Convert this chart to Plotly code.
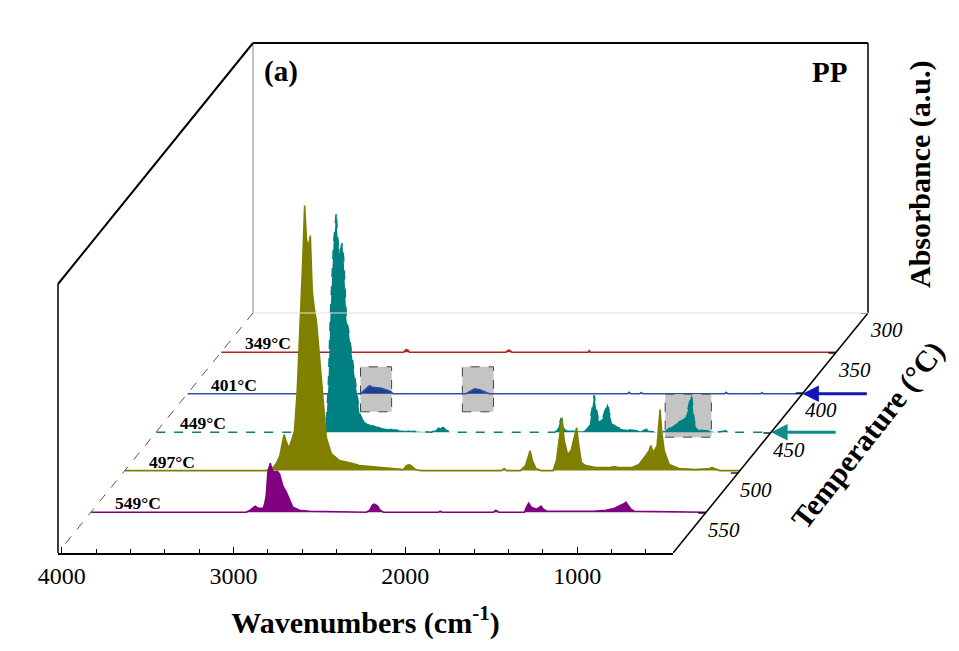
import plotly.graph_objects as go

# ---------------- data ----------------
temps = [349, 401, 449, 497, 549]
temp_labels = ["349°C", "401°C", "449°C", "497°C", "549°C"]
line_colors = ["#A82626", "#2A52A6", "#008080", "#808000", "#800080"]
fill_colors = ["#A82626", "#1E3F90", "#008080", "#808000", "#800080"]
line_dashes = ["solid", "solid", "dash", "solid", "solid"]

wn_349 = [4022, 2960, 2950, 2943, 2935, 2925, 2365, 2355, 2349, 2340, 2330, 1885, 1879, 1872, 442]
ab_349 = [0, 0, 0.02, 0.025, 0.02, 0, 0, 0.015, 0.02, 0.015, 0, 0, 0.015, 0, 0]

wn_401 = [4022, 3010, 3002, 2985, 2962, 2945, 2933, 2915, 2893, 2870, 2850, 2835, 2825,
          2400, 2391, 2370, 2350, 2320, 2290, 2275, 2265,
          1460, 1450, 1440, 1390, 1380, 1370, 895, 886, 875, 685, 677, 670, 442]
ab_401 = [0, 0, 0.02, 0.05, 0.08, 0.065, 0.06, 0.06, 0.055, 0.045, 0.03, 0.02, 0,
          0, 0.01, 0.035, 0.05, 0.04, 0.02, 0.01, 0,
          0, 0.015, 0, 0, 0.012, 0, 0, 0.015, 0, 0, 0.012, 0, 0]

wn_449 = [4022, 3040, 3030, 3020, 3007, 2995, 2989, 2980, 2974, 2966, 2955, 2945, 2939, 2931,
          2920, 2914, 2902, 2885, 2867, 2850, 2838, 2820, 2798, 2740, 2647, 2549, 2450,
          2420, 2395, 2380, 2365, 2350, 2335, 2310,
          1700, 1680, 1665, 1650, 1630,
          1525, 1500, 1485, 1472, 1462, 1445, 1425, 1410, 1394, 1385, 1367, 1340, 1309, 1250,
          1200, 1180, 1171, 1160, 1100,
          1055, 1040, 1000, 980, 960, 945, 930, 915, 906, 898, 890, 880, 860, 800, 760,
          700, 690, 442]
ab_449 = [0, 0, 0.15, 0.45, 1.2, 1.7, 1.9, 2.05, 2.2, 1.95, 1.79, 1.85, 1.89, 1.75,
          1.4, 1.12, 1.02, 0.8, 0.55, 0.33, 0.19, 0.12, 0.09, 0.05, 0.025, 0.01, 0,
          0, 0.02, 0.05, 0.04, 0.045, 0.02, 0,
          0, 0.05, 0.14, 0.05, 0.01,
          0.01, 0.06, 0.22, 0.37, 0.25, 0.11, 0.13, 0.2, 0.29, 0.2, 0.08, 0.05, 0.03, 0.02,
          0.01, 0.03, 0.035, 0.01, 0,
          0.01, 0.03, 0.08, 0.1, 0.12, 0.13, 0.2, 0.33, 0.38, 0.25, 0.12, 0.05, 0.02, 0.01, 0,
          0.015, 0, 0]

wn_497 = [4022, 3200, 3160, 3141, 3120, 3105, 3096, 3085, 3068, 3052, 3035, 3019, 3000, 2990,
          2983, 2976, 2965, 2953, 2943, 2932, 2920, 2908, 2889, 2866, 2850, 2821, 2773, 2697,
          2657, 2465, 2400, 2385, 2366, 2350, 2330, 2300, 1830, 1814, 1800,
          1720, 1690, 1672, 1664, 1650, 1630, 1600, 1530, 1510, 1495, 1478, 1465, 1445, 1425,
          1405, 1393, 1380, 1365, 1340, 1280, 1230, 1200, 1174, 1150, 1100, 1070, 1030, 1011,
          990, 971, 961, 947, 935, 924, 915, 907, 898, 883, 854, 796, 700, 620, 604, 590, 560, 442]
ab_497 = [0, 0, 0.03, 0.07, 0.15, 0.28, 0.36, 0.3, 0.22, 0.3, 0.4, 0.8, 1.47, 1.97,
          2.3, 2.65, 2.3, 2.25, 2.35, 1.8, 1.62, 1.5, 1.13, 0.67, 0.33, 0.17, 0.1, 0.07,
          0.05, 0.02, 0.01, 0.05, 0.06, 0.04, 0.01, 0, 0, 0.02, 0,
          0, 0.05, 0.15, 0.2, 0.1, 0.02, 0, 0, 0.1, 0.3, 0.53, 0.3, 0.16, 0.2,
          0.35, 0.43, 0.25, 0.08, 0.05, 0.03, 0.03, 0.03, 0.04, 0.03, 0.03, 0.03, 0.06, 0.1,
          0.15, 0.2, 0.25, 0.18, 0.22, 0.25, 0.45, 0.61, 0.4, 0.2, 0.06, 0.02, 0.01, 0.02, 0.03, 0.02, 0, 0]

wn_549 = [4022, 3120, 3096, 3075, 3067, 3050, 3019, 3010, 3003, 2993, 2985, 2979, 2972, 2966,
          2955, 2945, 2939, 2925, 2915, 2906, 2886, 2867, 2848, 2809, 2750, 2420, 2400, 2385,
          2373, 2355, 2340, 2320, 2000, 1990, 1980, 1680, 1666, 1650, 1500, 1485, 1475, 1460,
          1430, 1410, 1403, 1390, 1370, 1100, 1024, 975, 935, 915, 909, 895, 880, 860, 442]
ab_549 = [0, 0, 0.02, 0.05, 0.06, 0.04, 0.04, 0.1, 0.16, 0.4, 0.47, 0.49, 0.44, 0.42,
          0.4, 0.41, 0.41, 0.38, 0.32, 0.26, 0.2, 0.13, 0.05, 0.02, 0.01, 0, 0.02, 0.07,
          0.08, 0.06, 0.02, 0, 0, 0.01, 0, 0, 0.02, 0, 0, 0.06, 0.09, 0.05,
          0.03, 0.05, 0.06, 0.03, 0.01, 0.01, 0.02, 0.04, 0.07, 0.09, 0.1, 0.06, 0.03, 0.01, 0]

spectra_wn = [wn_349, wn_401, wn_449, wn_497, wn_549]
spectra_ab = [ab_349, ab_401, ab_449, ab_497, ab_549]

# highlighted regions: (layer index, wn_start, wn_end, ab_low, ab_high)
box_layer = [1, 1, 2]
box_wn0 = [3014, 2421, 1059]
box_wn1 = [2833, 2240, 790]
box_ab0 = [-0.18, -0.18, -0.05]
box_ab1 = [0.27, 0.27, 0.38]

# arrows marking layers (layer index, colour)
arrow_layer = [1, 2]
arrow_colors = ["#1414B8", "#0E8C8C"]

wn_range = [4022, 442]
wn_dtick = 1000
wn_minor = 200
temp_ticks = [300, 350, 400, 450, 500, 550]
temp_range = [600, 300]
ab_range = [-0.3, 2.7]

# ---------------- layout geometry ----------------
W, H = 959, 651
X0, X1 = 58, 673          # front wavenumber axis (px)
Y_FRONT = 553             # front edge (px from top)
DX, DY = 195, 240         # depth offset for the full temperature range
Y_TOP = 43                # top of back wall
Y_LEFTWALL = 284
PX_PER_AB = 100
FONT = "Liberation Serif"

span = temp_range[0] - temp_range[1]

def layer_left(T):
    return X0 + (temp_range[0] - T) / span * DX

def layer_base(T):
    return Y_FRONT - (temp_range[0] - T) / span * DY

def fx(px):
    return px / W

def fy(py):
    return (H - py) / H

fig = go.Figure()
layout = dict(
    template="none",
    width=W, height=H, margin=dict(l=0, r=0, t=0, b=0, autoexpand=False),
    paper_bgcolor="white", plot_bgcolor="rgba(0,0,0,0)",
    showlegend=False, font=dict(family=FONT, color="black"),
)
annotations = []
shapes = []

for i, T in enumerate(temps):
    n = i + 1
    xa = "x" if n == 1 else f"x{n}"
    ya = "y" if n == 1 else f"y{n}"
    L = layer_left(T)
    B = layer_base(T)
    y_bot = B - ab_range[0] * PX_PER_AB
    y_top = B - ab_range[1] * PX_PER_AB
    layout["xaxis" if n == 1 else f"xaxis{n}"] = dict(
        domain=[fx(L), fx(L + (X1 - X0))], range=wn_range, visible=False,
        anchor=ya, fixedrange=True, automargin=False)
    layout["yaxis" if n == 1 else f"yaxis{n}"] = dict(
        domain=[fy(y_bot), fy(y_top)], range=ab_range, visible=False,
        anchor=xa, fixedrange=True, automargin=False)
    fig.add_trace(go.Scatter(
        x=spectra_wn[i], y=spectra_ab[i], xaxis=xa, yaxis=ya, mode="lines",
        line=dict(color=line_colors[i], width=1.6, dash=line_dashes[i]),
        fill="tozeroy", fillcolor=fill_colors[i], hoverinfo="skip"))
    annotations.append(dict(
        xref=xa, yref=ya, x=wn_range[0] - 22 / ((X1 - X0) / (wn_range[0] - wn_range[1])),
        y=0, xanchor="left", yanchor="bottom", yshift=-3, showarrow=False,
        text=f"<b>{temp_labels[i]}</b>", font=dict(size=17.5, family=FONT, color="black")))

for k in range(len(box_layer)):
    n = box_layer[k] + 1
    xa = "x" if n == 1 else f"x{n}"
    ya = "y" if n == 1 else f"y{n}"
    shapes.append(dict(type="rect", xref=xa, yref=ya, x0=box_wn0[k], x1=box_wn1[k],
                       y0=box_ab0[k], y1=box_ab1[k], fillcolor="#C4C4C4",
                       line=dict(color="#444444", width=1, dash="dash"), layer="below"))

for k in range(len(arrow_layer)):
    n = arrow_layer[k] + 1
    xa = "x" if n == 1 else f"x{n}"
    ya = "y" if n == 1 else f"y{n}"
    annotations.append(dict(xref=xa, yref=ya, x=wn_range[1], y=0, ax=66, ay=0,
                            showarrow=True, arrowhead=2, arrowsize=1.1, arrowwidth=3,
                            arrowcolor=arrow_colors[k], text=""))

# front wavenumber axis (at the front edge)
nf = len(temps) + 1
layout[f"xaxis{nf}"] = dict(
    domain=[fx(X0), fx(X1)], range=wn_range, anchor=f"y{nf}", automargin=False,
    showline=True, linecolor="black", linewidth=2, ticks="inside", ticklen=6,
    tickwidth=1.2, tickcolor="black", dtick=wn_dtick, tick0=0, showgrid=False,
    zeroline=False, tickfont=dict(size=24, family=FONT, color="black"),
    minor=dict(dtick=wn_minor, ticks="inside", ticklen=4, tickcolor="black", showgrid=False),
    title=dict(text="<b>Wavenumbers (cm<sup>-1</sup>)</b>", standoff=24,
               font=dict(size=30, family=FONT, color="black")),
    fixedrange=True)
layout[f"yaxis{nf}"] = dict(domain=[fy(Y_FRONT), fy(Y_FRONT - 50)], range=[0, 1],
                            visible=False, anchor=f"x{nf}", fixedrange=True, automargin=False)
fig.add_trace(go.Scatter(x=[wn_range[0]], y=[-1], xaxis=f"x{nf}", yaxis=f"y{nf}",
                         mode="markers", marker=dict(opacity=0), hoverinfo="skip"))

# temperature (depth) axis, drawn along the right floor diagonal
nt = nf + 1
layout[f"xaxis{nt}"] = dict(domain=[fx(X1), fx(X1 + DX)], range=temp_range,
                            visible=False, anchor=f"y{nt}", fixedrange=True, automargin=False)
layout[f"yaxis{nt}"] = dict(domain=[fy(Y_FRONT), fy(Y_FRONT - DY)], range=temp_range,
                            visible=False, anchor=f"x{nt}", fixedrange=True, automargin=False)
fig.add_trace(go.Scatter(x=temp_range, y=temp_range, xaxis=f"x{nt}", yaxis=f"y{nt}",
                         mode="lines", line=dict(color="black", width=1.6),
                         hoverinfo="skip", cliponaxis=False))
tx, ty = [], []
for T in temp_ticks:
    tx += [T, T + 11, None]
    ty += [T, T, None]
fig.add_trace(go.Scatter(x=tx, y=ty, xaxis=f"x{nt}", yaxis=f"y{nt}", mode="lines",
                         line=dict(color="black", width=1.3), hoverinfo="skip",
                         cliponaxis=False))
for T in temp_ticks:
    annotations.append(dict(xref=f"x{nt}", yref=f"y{nt}", x=T, y=T, xanchor="left",
                            yanchor="top", xshift=0, yshift=-3, showarrow=False,
                            text=f"<i>{T}</i>",
                            font=dict(size=21, family=FONT, color="black")))

# ---------------- frame ----------------
BX0, BX1 = X0 + DX, X1 + DX
BY = Y_FRONT - DY
def seg(x0, y0, x1, y1, color="black", width=1.5, dash="solid"):
    shapes.append(dict(type="line", xref="paper", yref="paper", x0=fx(x0), y0=fy(y0),
                       x1=fx(x1), y1=fy(y1), line=dict(color=color, width=width, dash=dash)))

seg(BX0, Y_TOP, BX1, Y_TOP, width=2)                 # back wall top
seg(BX1, Y_TOP, BX1, BY, width=1.5)                  # back wall right
seg(BX0, Y_TOP, BX0, BY, color="#8a8a8a", width=1)   # back wall left
seg(BX0, BY, BX1, BY, color="#F6DADA", width=1)      # back wall bottom
seg(X0, Y_LEFTWALL, BX0, Y_TOP, width=2)             # left wall top
seg(X0, Y_LEFTWALL, X0, Y_FRONT, width=1.5)          # left wall front
seg(BX0, BY, X0 + 3, Y_FRONT - 4, color="#555555", width=1, dash="dash")  # floor left

annotations += [
    dict(xref="paper", yref="paper", x=fx(262), y=fy(71), xanchor="left", yanchor="middle",
         text="<b>(a)</b>", showarrow=False, font=dict(size=29, family=FONT, color="black")),
    dict(xref="paper", yref="paper", x=fx(849), y=fy(72), xanchor="right", yanchor="middle",
         text="<b>PP</b>", showarrow=False, font=dict(size=29, family=FONT, color="black")),
    dict(xref="paper", yref="paper", x=fx(920), y=fy(174), xanchor="center", yanchor="middle",
         text="<b>Absorbance (a.u.)</b>", textangle=-90, showarrow=False,
         font=dict(size=30, family=FONT, color="black")),
    dict(xref="paper", yref="paper", x=fx(868), y=fy(435), xanchor="center", yanchor="middle",
         text="<b>Temperature (°C)</b>", textangle=-52, showarrow=False,
         font=dict(size=30, family=FONT, color="black")),
]

layout["annotations"] = annotations
layout["shapes"] = shapes
fig.update_layout(**layout)
fig.write_html("out.html")
